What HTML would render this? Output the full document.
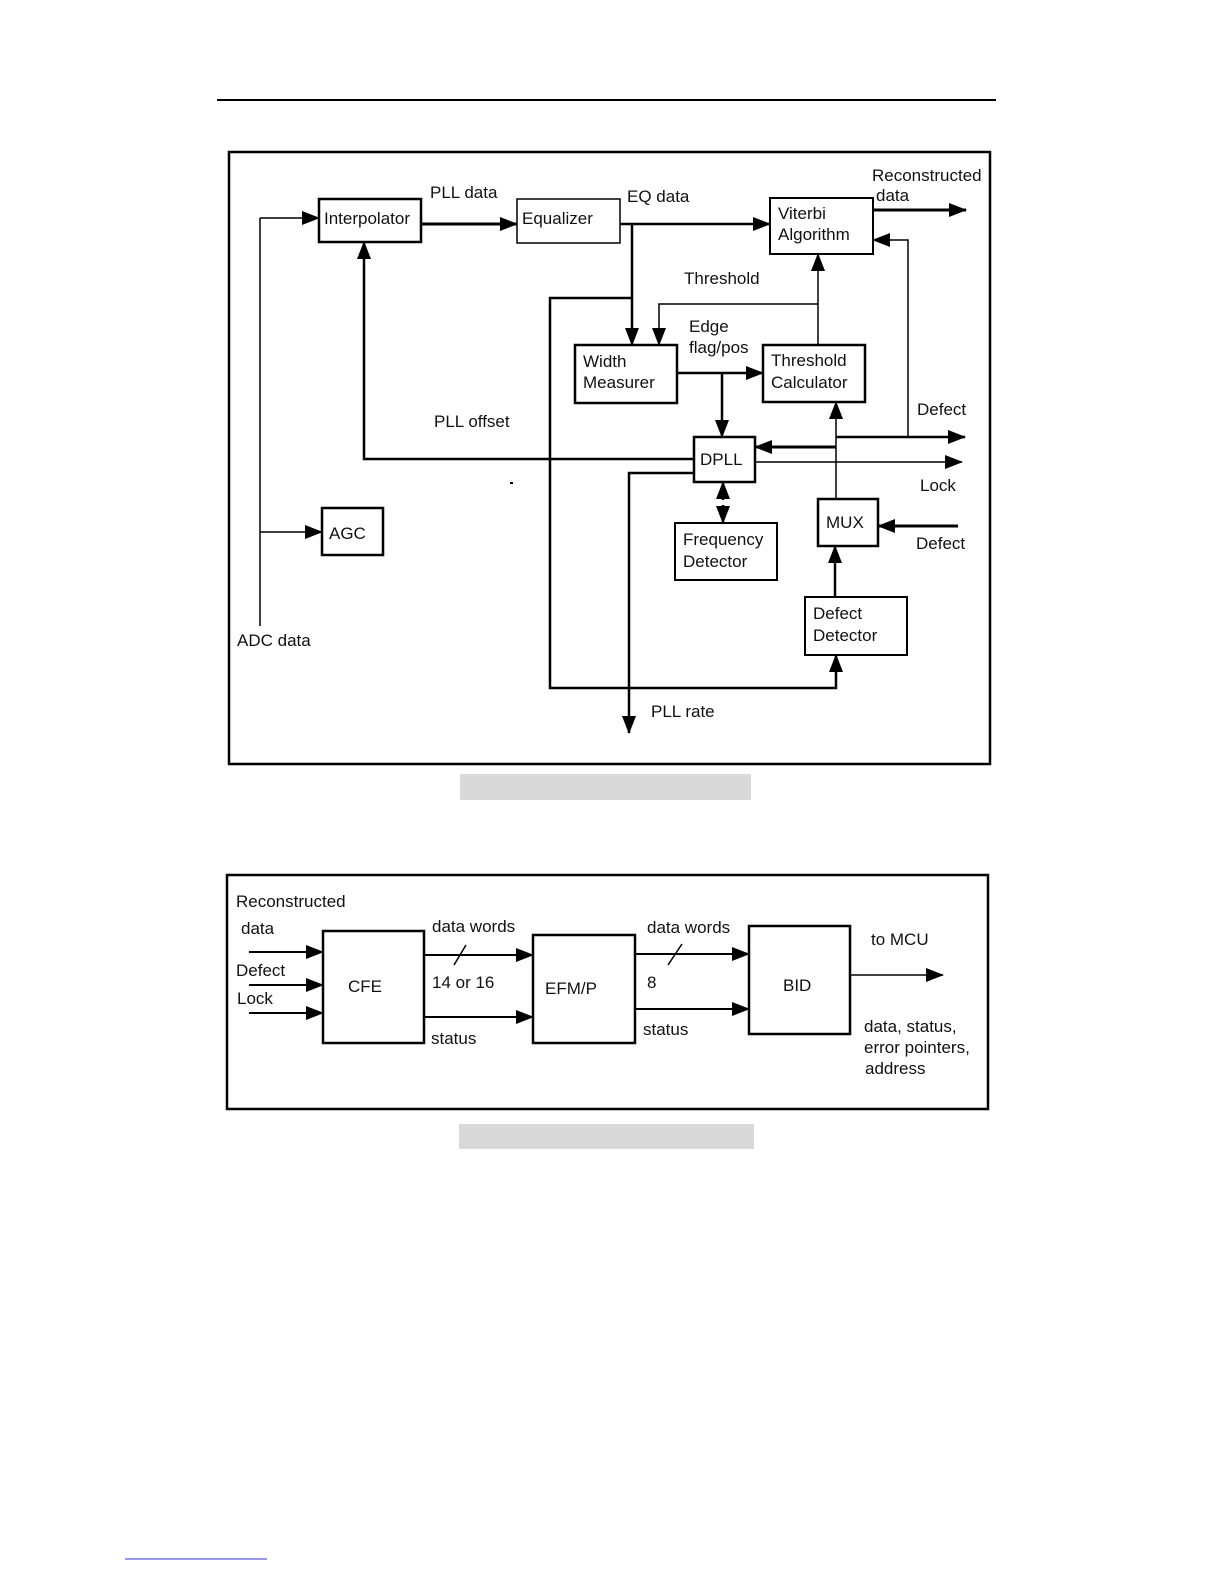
<!DOCTYPE html>
<html><head><meta charset="utf-8"><style>
html,body{margin:0;padding:0;background:#fff}
svg{display:block}
text{font-family:"Liberation Sans",sans-serif;font-size:17px;fill:#111}
</style></head><body>
<svg width="1224" height="1584" viewBox="0 0 1224 1584" xmlns="http://www.w3.org/2000/svg">
<defs>
<marker id="a" markerWidth="18" markerHeight="14" refX="17" refY="7" orient="auto" markerUnits="userSpaceOnUse">
<path d="M0,0 L18,7 L0,14 z" fill="#000"/></marker>
</defs>
<line x1="217" y1="100" x2="996" y2="100" stroke="#000" stroke-width="2"/>
<g fill="none" stroke="#000">
<rect x="229" y="152" width="761" height="612" stroke-width="2.5"/>
<rect x="319" y="199" width="102" height="43" stroke-width="2.5"/>
<rect x="517" y="199" width="103" height="44" stroke-width="1.5"/>
<rect x="770" y="198" width="103" height="56" stroke-width="2"/>
<rect x="575" y="345" width="102" height="58" stroke-width="2.5"/>
<rect x="763" y="345" width="102" height="57" stroke-width="2.5"/>
<rect x="694" y="437" width="61" height="45" stroke-width="2.5"/>
<rect x="675" y="523" width="102" height="57" stroke-width="2"/>
<rect x="818" y="499" width="60" height="47" stroke-width="2.5"/>
<rect x="805" y="597" width="102" height="58" stroke-width="2"/>
<rect x="322" y="508" width="61" height="47" stroke-width="2.5"/>
</g>
<g fill="none" stroke="#000" stroke-width="1.5">
<line x1="260" y1="218" x2="260" y2="626"/>
<line x1="260" y1="218" x2="319" y2="218" marker-end="url(#a)"/>
<line x1="260" y1="532" x2="322" y2="532" marker-end="url(#a)"/>
<line x1="421" y1="224" x2="517" y2="224" stroke-width="3" marker-end="url(#a)"/>
<line x1="620" y1="224" x2="770" y2="224" stroke-width="2.5" marker-end="url(#a)"/>
<line x1="632" y1="224" x2="632" y2="345" stroke-width="2.5" marker-end="url(#a)"/>
<polyline points="632,298 550,298 550,688 836,688 836,655" stroke-width="2.5" marker-end="url(#a)"/>
<line x1="818" y1="345" x2="818" y2="254" marker-end="url(#a)"/>
<polyline points="818,304 659,304 659,345" marker-end="url(#a)"/>
<line x1="677" y1="373" x2="763" y2="373" stroke-width="2.5" marker-end="url(#a)"/>
<line x1="722" y1="373" x2="722" y2="437" stroke-width="2.5" marker-end="url(#a)"/>
<polyline points="694,459 364,459 364,242" stroke-width="2.5" marker-end="url(#a)"/>
<line x1="755" y1="462" x2="962" y2="462" marker-end="url(#a)"/>
<line x1="836" y1="437" x2="965" y2="437" stroke-width="2.5" marker-end="url(#a)"/>
<line x1="836" y1="499" x2="836" y2="402" marker-end="url(#a)"/>
<line x1="836" y1="447" x2="755" y2="447" stroke-width="3" marker-end="url(#a)"/>
<polyline points="908,437 908,240 873,240" marker-end="url(#a)"/>
<line x1="723" y1="500" x2="723" y2="482" stroke-width="2.5" marker-end="url(#a)"/>
<line x1="723" y1="505" x2="723" y2="523" stroke-width="2.5" marker-end="url(#a)"/>
<polyline points="694,473 629,473 629,733" stroke-width="2.5" marker-end="url(#a)"/>
<line x1="958" y1="526" x2="878" y2="526" stroke-width="3" marker-end="url(#a)"/>
<line x1="835" y1="597" x2="835" y2="546" stroke-width="2.5" marker-end="url(#a)"/>
<line x1="873" y1="210" x2="966" y2="210" stroke-width="3" marker-end="url(#a)"/>
</g>
<text x="324" y="224">Interpolator</text>
<text x="522" y="224">Equalizer</text>
<text x="778" y="219">Viterbi</text>
<text x="778" y="240">Algorithm</text>
<text x="583" y="367">Width</text>
<text x="583" y="388">Measurer</text>
<text x="771" y="366">Threshold</text>
<text x="771" y="388">Calculator</text>
<text x="700" y="465">DPLL</text>
<text x="683" y="545">Frequency</text>
<text x="683" y="567">Detector</text>
<text x="826" y="528">MUX</text>
<text x="813" y="619">Defect</text>
<text x="813" y="641">Detector</text>
<text x="329" y="539">AGC</text>
<text x="430" y="198">PLL data</text>
<text x="627" y="202">EQ data</text>
<text x="872" y="181">Reconstructed</text>
<text x="876" y="201">data</text>
<text x="684" y="284">Threshold</text>
<text x="689" y="332">Edge</text>
<text x="689" y="353">flag/pos</text>
<text x="434" y="427">PLL offset</text>
<text x="917" y="415">Defect</text>
<text x="920" y="491">Lock</text>
<text x="916" y="549">Defect</text>
<text x="237" y="646">ADC data</text>
<text x="651" y="717">PLL rate</text>
<rect x="510" y="482" width="3" height="2" fill="#000"/>
<rect x="460" y="774" width="291" height="26" fill="#d9d9d9"/>

<g fill="none" stroke="#000">
<rect x="227" y="875" width="761" height="234" stroke-width="2.5"/>
<rect x="323" y="931" width="101" height="112" stroke-width="2.5"/>
<rect x="533" y="935" width="102" height="108" stroke-width="2.5"/>
<rect x="749" y="926" width="101" height="108" stroke-width="2.5"/>
</g>
<g fill="none" stroke="#000" stroke-width="2">
<line x1="249" y1="952" x2="323" y2="952" marker-end="url(#a)"/>
<line x1="249" y1="985" x2="323" y2="985" marker-end="url(#a)"/>
<line x1="249" y1="1013" x2="323" y2="1013" marker-end="url(#a)"/>
<line x1="424" y1="955" x2="533" y2="955" marker-end="url(#a)"/>
<line x1="424" y1="1017" x2="533" y2="1017" marker-end="url(#a)"/>
<line x1="635" y1="954" x2="749" y2="954" marker-end="url(#a)"/>
<line x1="635" y1="1009" x2="749" y2="1009" marker-end="url(#a)"/>
<line x1="850" y1="975" x2="943" y2="975" stroke-width="1.5" marker-end="url(#a)"/>
<line x1="454" y1="965" x2="466" y2="945" stroke-width="1.5"/>
<line x1="668" y1="965" x2="682" y2="944" stroke-width="1.5"/>
</g>
<text x="236" y="907">Reconstructed</text>
<text x="241" y="934">data</text>
<text x="236" y="976">Defect</text>
<text x="237" y="1004">Lock</text>
<text x="348" y="992">CFE</text>
<text x="432" y="932">data words</text>
<text x="432" y="988">14 or 16</text>
<text x="431" y="1044">status</text>
<text x="545" y="994">EFM/P</text>
<text x="647" y="933">data words</text>
<text x="647" y="988">8</text>
<text x="643" y="1035">status</text>
<text x="783" y="991">BID</text>
<text x="871" y="945">to MCU</text>
<text x="864" y="1032">data, status,</text>
<text x="864" y="1053">error pointers,</text>
<text x="865" y="1074">address</text>
<rect x="459" y="1124" width="295" height="25" fill="#d9d9d9"/>
<line x1="125" y1="1559" x2="267" y2="1559" stroke="#33c" stroke-width="1"/>
</svg>
</body></html>
